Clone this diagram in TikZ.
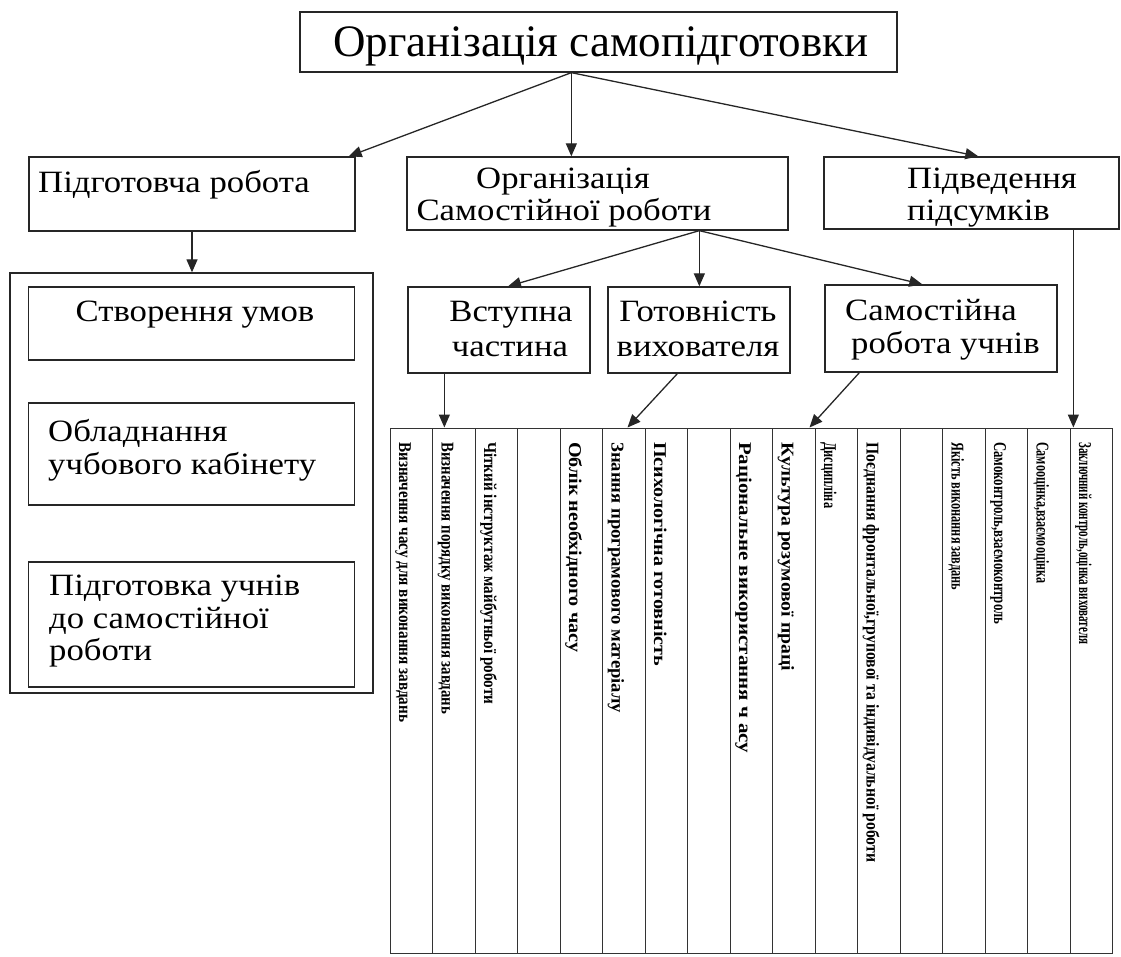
\documentclass[tikz,border=0pt]{standalone}
\usepackage{graphicx}
\usepackage{fontspec}
\setmainfont{Liberation Serif}
\newfontfamily\widefont[FakeStretch=1.12]{Liberation Serif}
\usetikzlibrary{arrows.meta,calc}
\newcommand\coltext[3]{\node[vlbl] (v#1) at ({390+42.5*(#1-1)+9},442) {\resizebox{#2pt}{\height}{#3}};}
\begin{document}
\begin{tikzpicture}[x=1pt,y=-1pt,
  box/.style={draw=black!85,line width=1.3pt,inner sep=0pt},
  col/.style={draw=black!80,line width=1pt,inner sep=0pt,minimum width=42.5pt,minimum height=525pt},
  arr/.style={draw=black!85,line width=1.3pt,-{Triangle[length=13pt,width=11pt]}},
  lbl/.style={inner sep=0pt,font=\widefont\fontsize{31}{31}\selectfont},
  vlbl/.style={inner sep=0pt,rotate=-90,anchor=base west,font=\fontsize{18}{18}\selectfont\bfseries}]
\useasboundingbox (0,0) rectangle (1121,957);
% boxes
\node[box,minimum width=597pt,minimum height=60pt] (top) at (598.5,42) {};
\node[box,minimum width=326pt,minimum height=74pt] (P) at (192,194) {};
\node[box,minimum width=381pt,minimum height=73pt] (O) at (597.5,193.5) {};
\node[box,minimum width=295pt,minimum height=72pt] (S) at (971.5,193) {};
\node[box,minimum width=363pt,minimum height=420pt] (C) at (191.5,483) {};
\node[box,minimum width=326pt,minimum height=73pt] (I1) at (191.5,323.5) {};
\node[box,minimum width=326pt,minimum height=102pt] (I2) at (191.5,454) {};
\node[box,minimum width=326pt,minimum height=125pt] (I3) at (191.5,624.5) {};
\node[box,minimum width=182pt,minimum height=86pt] (V) at (499,330) {};
\node[box,minimum width=182pt,minimum height=86pt] (G) at (699,330) {};
\node[box,minimum width=232pt,minimum height=87pt] (SR) at (941,328.5) {};
\foreach \k in {1,...,17} \node[col] (c\k) at ({390+42.5*(\k-0.5)},690.5) {};
% texts
\node[lbl,anchor=base,font=\fontsize{45}{45}\selectfont] (ttop) at (601,57) {Організація самопідготовки};
\node[lbl,anchor=base west] (tp) at (38,193) {Підготовча робота};
\node[lbl,anchor=base] (to1) at (563,189) {Організація};
\node[lbl,anchor=base] (to2) at (564,221) {Самостійної роботи};
\node[lbl,anchor=base west] (ts1) at (907,189) {Підведення};
\node[lbl,anchor=base west] (ts2) at (907,221) {підсумків};
\node[lbl,anchor=base] (ti1) at (195,322) {Створення умов};
\node[lbl,anchor=base west] (ti2a) at (48,441) {Обладнання};
\node[lbl,anchor=base west] (ti2b) at (48,474) {учбового кабінету};
\node[lbl,anchor=base west] (ti3a) at (49,595) {Підготовка учнів};
\node[lbl,anchor=base west] (ti3b) at (49,628) {до самостійної};
\node[lbl,anchor=base west] (ti3c) at (49,660) {роботи};
\node[lbl,anchor=base] (tv1) at (511,322) {Вступна};
\node[lbl,anchor=base] (tv2) at (510,356) {частина};
\node[lbl,anchor=base] (tg1) at (698,322) {Готовність};
\node[lbl,anchor=base] (tg2) at (698,356) {вихователя};
\node[lbl,anchor=base west] (tr1) at (845,320) {Самостійна};
\node[lbl,anchor=base west] (tr2) at (851,353) {робота учнів};
% vertical texts
\coltext{1}{280}{Визначення часу для виконання завдань}
\coltext{2}{272}{Визначення порядку виконання завдань}
\coltext{3}{262}{Чіткий інструктаж майбутньої роботи}
\coltext{5}{210}{Облік необхідного часу}
\coltext{6}{271}{Знання програмового матеріалу}
\coltext{7}{224}{Психологічна готовність}
\coltext{9}{311}{Раціональне використання ч асу}
\coltext{10}{229}{Культура розумової праці}
\coltext{11}{66}{Дисципліна}
\coltext{12}{420}{Поєднання фронтальної,групової та індивідуальної роботи}
\coltext{14}{148}{Якість виконання завдань}
\coltext{15}{182}{Самоконтроль,взаємоконтроль}
\coltext{16}{141}{Самооцінка,взаємооцінка}
\coltext{17}{202}{Заключний контроль,оцінка вихователя}
% connectors
\coordinate (t0) at ($(top.south west)+(272,0)$);
\draw[arr] (t0) -- ($(P.north east)+(-7,0)$);
\draw[arr] (t0) -- (t0 |- O.north);
\draw[arr] (t0) -- ($(S.north west)+(155,0)$);
\draw[arr] (P.south) -- (P.south |- C.north);
\coordinate (o0) at ($(O.south west)+(293,0)$);
\draw[arr] (o0) -- ($(V.north)+(9,0)$);
\draw[arr] (o0) -- (o0 |- G.north);
\draw[arr] (o0) -- ($(SR.north west)+(98,0)$);
\coordinate (v0) at ($(V.south west)+(37,0)$);
\draw[arr] (v0) -- (v0 |- c2.north);
\draw[arr] ($(G.south west)+(70,0)$) -- ($(c6.north west)+(25.5,0)$);
\draw[arr] ($(SR.south west)+(35,0)$) -- ($(c10.north west)+(37.5,0)$);
\coordinate (s0) at ($(S.south west)+(250,0)$);
\draw[arr] (s0) -- (s0 |- c17.north);
\end{tikzpicture}
\end{document}
